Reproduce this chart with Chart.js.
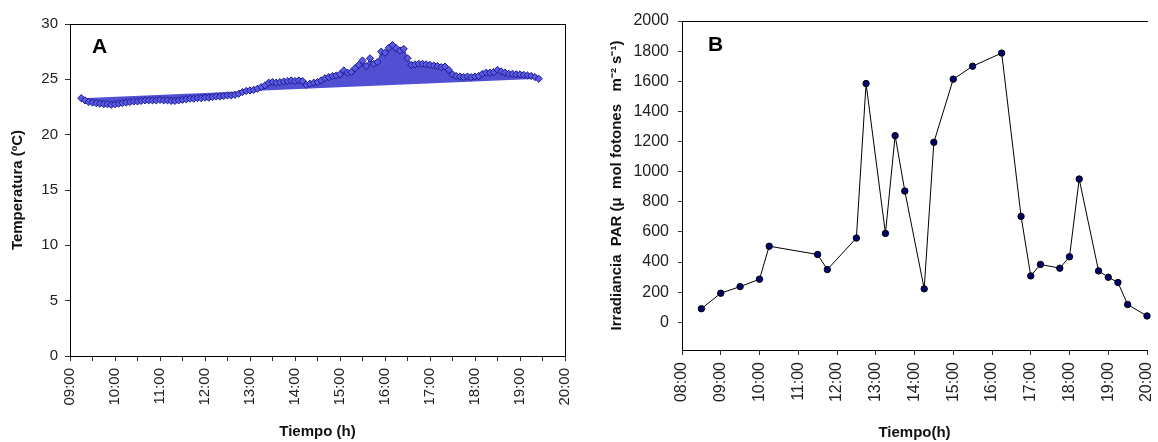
<!DOCTYPE html>
<html>
<head>
<meta charset="utf-8">
<script src="https://cdn.jsdelivr.net/npm/chart.js@4.4.1/dist/chart.umd.min.js"></script>
<style>
  body { margin: 0; background: #fff; }
  #wrap { position: relative; width: 1158px; height: 442px; background: #fff; overflow: hidden; }
  canvas { position: absolute; top: 0; }
  .tag { position: absolute; font: bold 21px Arial, "Liberation Sans", sans-serif; line-height: 21px; color: #000; }
</style>
</head>
<body>
<div id="wrap">
  <canvas id="chartA" width="600" height="442" style="left:0"></canvas>
  <canvas id="chartB" width="558" height="442" style="left:600px"></canvas>
  <div class="tag" style="left:92px; top:35px">A</div>
  <div class="tag" style="left:708px; top:33px">B</div>
</div>
<script>
// A: temperatura cada 5 min
const tempTimes = [
  '09:15','09:20','09:25','09:30','09:35','09:40','09:45','09:50','09:55',
  '10:00','10:05','10:10','10:15','10:20','10:25','10:30','10:35','10:40','10:45','10:50','10:55',
  '11:00','11:05','11:10','11:15','11:20','11:25','11:30','11:35','11:40','11:45','11:50','11:55',
  '12:00','12:05','12:10','12:15','12:20','12:25','12:30','12:35','12:40','12:45','12:50','12:55',
  '13:00','13:05','13:10','13:15','13:20','13:25','13:30','13:35','13:40','13:45','13:50','13:55',
  '14:00','14:05','14:10','14:15','14:20','14:25','14:30','14:35','14:40','14:45','14:50','14:55',
  '15:00','15:05','15:10','15:15','15:20','15:25','15:30','15:35','15:40','15:45','15:50','15:55',
  '16:00','16:05','16:10','16:15','16:20','16:25','16:30','16:35','16:40','16:45','16:50','16:55',
  '17:00','17:05','17:10','17:15','17:20','17:25','17:30','17:35','17:40','17:45','17:50','17:55',
  '18:00','18:05','18:10','18:15','18:20','18:25','18:30','18:35','18:40','18:45','18:50','18:55',
  '19:00','19:05','19:10','19:15','19:20','19:25'
];
const tempValues = [
  23.3, 23.1, 22.95, 22.9, 22.85, 22.8, 22.75, 22.75, 22.7,
  22.75, 22.8, 22.85, 22.9, 22.95, 23.0, 23.0, 23.05, 23.1, 23.1, 23.1, 23.1,
  23.15, 23.1, 23.1, 23.05, 23.05, 23.1, 23.15, 23.2, 23.25, 23.25, 23.3, 23.3,
  23.35, 23.35, 23.4, 23.45, 23.45, 23.5, 23.55, 23.55, 23.6, 23.7, 23.85, 23.95,
  24.0, 24.05, 24.15, 24.3, 24.45, 24.7, 24.75, 24.7, 24.75, 24.8, 24.85, 24.9,
  24.85, 24.9, 24.85, 24.5, 24.6, 24.7, 24.75, 24.9, 25.1, 25.2, 25.3, 25.35,
  25.45, 25.8, 25.6, 25.65, 26.0, 26.3, 26.7, 26.2, 26.9, 26.4, 26.55, 27.5,
  27.4, 27.85, 28.1, 27.8, 27.6, 27.75, 26.9, 26.3, 26.35, 26.4, 26.4, 26.35,
  26.3, 26.25, 26.2, 26.1, 26.15, 25.85, 25.45, 25.3, 25.25, 25.2, 25.25, 25.2,
  25.25, 25.3, 25.5, 25.6, 25.6, 25.65, 25.85, 25.7, 25.6, 25.5, 25.5, 25.45,
  25.45, 25.4, 25.35, 25.3, 25.2, 25.05
];
const tempTicks = [0, 5, 10, 15, 20, 25, 30];

// B: irradiancia PAR
const parTimes = ['08:30','09:00','09:30','10:00','10:15','11:30','11:45','12:30','12:45','13:15',
  '13:30','13:45','14:15','14:30','15:00','15:30','16:15','16:45','17:00','17:15',
  '17:45','18:00','18:15','18:45','19:00','19:15','19:30','20:00'];
const parValues = [90, 193, 237, 286, 505, 450, 350, 559, 1585, 590,
  1239, 871, 222, 1195, 1614, 1700, 1787, 703, 308, 384,
  359, 435, 951, 341, 299, 264, 118, 42];
const parTicks = [0, 200, 400, 600, 800, 1000, 1200, 1400, 1600, 1800, 2000];

const toHours = t => { const p = t.split(':'); return +p[0] + p[1] / 60; };
const hourLabel = v => Number.isInteger(v) ? String(v).padStart(2, '0') + ':00' : '';

const FONT = 'Arial, "Liberation Sans", sans-serif';
const tickFont = size => ({ family: FONT, size: size });
const titleFont = { family: FONT, size: 15, weight: 'bold' };
const INK = '#222';

const tempPts = tempTimes.map((t, i) => ({ x: toHours(t), y: tempValues[i] }));
const chord = [tempPts[0], tempPts[tempPts.length - 1]];

// keep the plot edges where the layout padding puts them
const noEdgePad = s => { s.paddingLeft = 0; s.paddingRight = 0; };

new Chart(document.getElementById('chartA'), {
  type: 'line',
  data: {
    datasets: [
      {
        data: tempPts,
        borderColor: '#2b2ba8',
        borderWidth: 1,
        backgroundColor: '#5250d2',
        fill: { target: 1 },
        pointStyle: 'rectRot',
        pointRadius: 3.6,
        pointBackgroundColor: '#5a5ae2',
        pointBorderColor: '#1a1a90',
        pointBorderWidth: 1,
        tension: 0
      },
      {
        data: chord,
        borderWidth: 0,
        pointRadius: 0,
        fill: false
      }
    ]
  },
  options: {
    responsive: false,
    animation: false,
    devicePixelRatio: 1,
    layout: { padding: { top: 24, right: 35, left: 0, bottom: 0 } },
    plugins: { legend: { display: false }, tooltip: { enabled: false } },
    scales: {
      x: {
        type: 'linear', min: 9, max: 20,
        ticks: { stepSize: 0.5, autoSkip: false, minRotation: 90, maxRotation: 90, padding: 7,
                 color: INK, font: tickFont(15), callback: v => hourLabel(v) },
        grid: { drawOnChartArea: false, tickLength: 5, color: '#333' },
        border: { color: '#000', width: 1 },
        title: { display: true, text: 'Tiempo (h)', color: '#111', font: titleFont, padding: { top: 0, bottom: 1 } },
        afterFit: s => { s.height = 86; noEdgePad(s); }
      },
      y: {
        min: 0, max: 30,
        afterBuildTicks: s => { s.ticks = tempTicks.map(v => ({ value: v })); },
        ticks: { color: INK, font: tickFont(15), padding: 7, callback: v => String(v) },
        grid: { drawOnChartArea: false, tickLength: 5, color: '#333' },
        border: { color: '#000', width: 1 },
        title: { display: true, text: 'Temperatura (ºC)', color: '#111', font: titleFont, padding: { top: 9, bottom: 0 } },
        afterFit: s => { s.width = 70; }
      },
      x2: {
        type: 'linear', position: 'top', min: 9, max: 20,
        ticks: { display: false }, grid: { display: false },
        border: { display: true, color: '#000', width: 1 },
        afterFit: s => { s.height = 0; }
      },
      y2: {
        position: 'right', min: 0, max: 30,
        ticks: { display: false }, grid: { display: false },
        border: { display: true, color: '#000', width: 1 },
        afterFit: s => { s.width = 0; }
      }
    }
  }
});

new Chart(document.getElementById('chartB'), {
  type: 'line',
  data: {
    datasets: [{
      data: parTimes.map((t, i) => ({ x: toHours(t), y: parValues[i] })),
      borderColor: '#000',
      borderWidth: 1,
      pointRadius: 3.2,
      pointBackgroundColor: '#00006e',
      pointBorderColor: '#000',
      pointBorderWidth: 1,
      fill: false,
      clip: false,
      tension: 0
    }]
  },
  options: {
    responsive: false,
    animation: false,
    devicePixelRatio: 1,
    layout: { padding: { top: 21, right: 11, left: 0, bottom: 0 } },
    plugins: { legend: { display: false }, tooltip: { enabled: false } },
    scales: {
      x: {
        type: 'linear', min: 8, max: 20,
        ticks: { stepSize: 1, autoSkip: false, minRotation: 90, maxRotation: 90, padding: 7,
                 color: INK, font: tickFont(16), callback: v => hourLabel(v) },
        grid: { drawOnChartArea: false, tickLength: 5, color: '#333' },
        border: { color: '#000', width: 1 },
        title: { display: true, text: 'Tiempo(h)', color: '#111', font: titleFont, padding: { top: 0, bottom: 0 } },
        afterFit: s => { s.height = 92; noEdgePad(s); }
      },
      y: {
        min: -184, max: 2000,
        afterBuildTicks: s => { s.ticks = parTicks.map(v => ({ value: v })); },
        ticks: { color: INK, font: tickFont(16), padding: 9, callback: v => String(v) },
        grid: { drawOnChartArea: false, tickLength: 4, color: '#333' },
        border: { color: '#000', width: 1 },
        title: { display: true, text: 'Irradiancia  PAR (μ  mol fotones   m⁻² s⁻¹)', color: '#111', font: titleFont, padding: { top: 8, bottom: 0 } },
        afterFit: s => { s.width = 82; }
      },
      x2: {
        type: 'linear', position: 'top', min: 8, max: 20,
        ticks: { display: false }, grid: { display: false },
        border: { display: true, color: '#000', width: 1 },
        afterFit: s => { s.height = 0; }
      }
    }
  }
});
</script>
</body>
</html>
